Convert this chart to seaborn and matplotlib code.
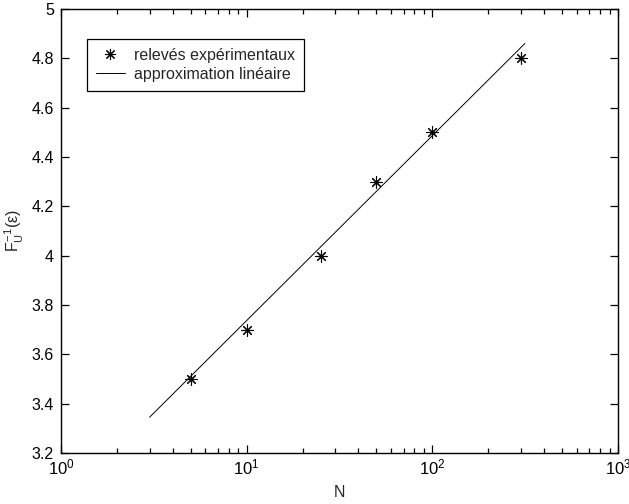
import matplotlib
matplotlib.use("Agg")
import matplotlib.pyplot as plt
import seaborn as sns
import pandas as pd
from matplotlib.lines import Line2D
from matplotlib.ticker import LogLocator, FixedLocator

# data
N_points = [5, 10, 25, 50, 100, 300]
F_points = [3.50, 3.70, 4.00, 4.30, 4.50, 4.80]
N_line = [3, 315]
F_line = [3.345, 4.86]
y_ticks = [3.2, 3.4, 3.6, 3.8, 4.0, 4.2, 4.4, 4.6, 4.8, 5.0]
y_tick_labels = ["3.2", "3.4", "3.6", "3.8", "4", "4.2", "4.4", "4.6", "4.8", "5"]
legend_labels = ["relevés expérimentaux", "approximation linéaire"]

sns.set_theme(style="ticks")
plt.rcParams["font.family"] = ["Liberation Sans", "DejaVu Sans"]
plt.rcParams["mathtext.fontset"] = "custom"
plt.rcParams["mathtext.rm"] = "Liberation Sans"
plt.rcParams["mathtext.it"] = "Liberation Sans"
plt.rcParams["mathtext.bf"] = "Liberation Sans:bold"

FS = 11.5
fig = plt.figure(figsize=(6.29, 5.04), dpi=100)
ax = fig.add_axes([61 / 629, 1 - 453 / 504, (618 - 61) / 629, (453 - 9) / 504])

pts = pd.DataFrame({"N": N_points, "F": F_points})
ln = pd.DataFrame({"N": N_line, "F": F_line})

sns.lineplot(data=ln, x="N", y="F", ax=ax, color="black", linewidth=0.7)
ax.scatter(pts["N"], pts["F"], marker=(8, 2, 0), s=65, color="black", linewidths=0.8, zorder=3)

ax.set_xscale("log")
ax.set_xlim(1, 1000)
ax.set_ylim(3.2, 5.0)
ax.yaxis.set_major_locator(FixedLocator(y_ticks))
ax.set_yticklabels(y_tick_labels)
ax.xaxis.set_major_locator(LogLocator(base=10, numticks=10))
ax.xaxis.set_minor_locator(LogLocator(base=10, subs=range(2, 10), numticks=10))

for s in ax.spines.values():
    s.set_visible(True)
    s.set_color("black")
    s.set_linewidth(1.0)
ax.tick_params(which="both", direction="in", top=True, right=True, colors="black",
               labelsize=FS, width=0.9)
ax.tick_params(which="major", length=6, pad=5)
ax.tick_params(which="minor", length=3.5)
ax.tick_params(axis="x", which="major", labelsize=12, pad=3)
ax.grid(False)
ax.set_facecolor("white")

ax.set_xlabel("N", fontsize=FS, labelpad=6)
ax.set_ylabel(r"$F_U^{-1}(\varepsilon)$", fontsize=FS, labelpad=4)

handles = [
    Line2D([], [], marker=(8, 2, 0), markersize=8, color="black", markeredgewidth=0.8, linestyle="none"),
    Line2D([], [], color="black", linewidth=0.7),
]
leg = ax.legend(handles, legend_labels, loc="upper left", bbox_to_anchor=(0.047, 0.932),
                borderaxespad=0, fancybox=False, framealpha=1, edgecolor="black",
                fontsize=FS, handlelength=1.8, handletextpad=0.6, labelspacing=0.25,
                borderpad=0.55)
leg.get_frame().set_linewidth(0.9)

fig.savefig("out.png", dpi=100, facecolor="white")
